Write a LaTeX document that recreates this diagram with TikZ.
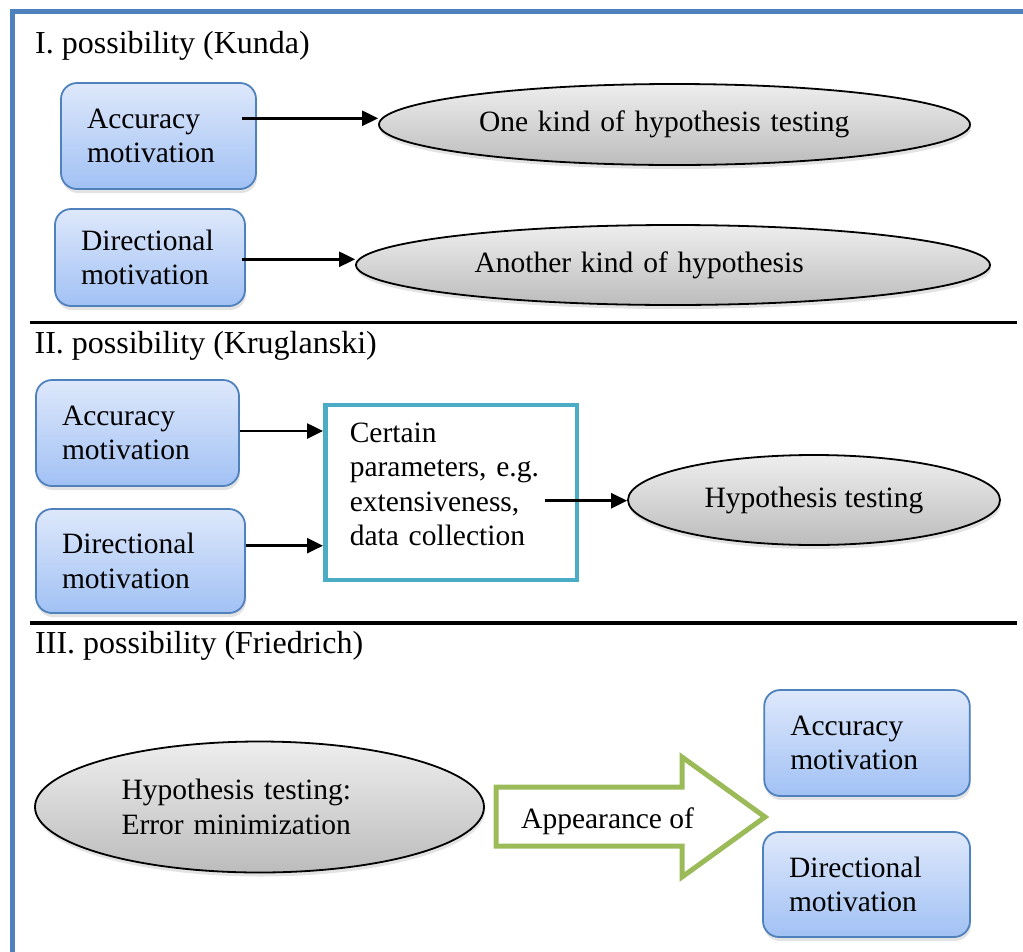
\documentclass[tikz,border=0pt]{standalone}
\usepackage{fontspec}
\setmainfont{Liberation Serif}
\usetikzlibrary{shapes.geometric,shadows,arrows.meta}

\definecolor{frameblue}{HTML}{4F81BD}
\definecolor{boxtop}{HTML}{DEE8FB}
\definecolor{boxbot}{HTML}{A1C1F4}
\definecolor{boxedge}{HTML}{4F81BD}
\definecolor{elltop}{HTML}{EEEEEE}
\definecolor{ellbot}{HTML}{BCBCBC}
\definecolor{paramcyan}{HTML}{4BACC6}
\definecolor{arrowgreen}{HTML}{9BBB59}

\tikzset{
  bodyfont/.style={font=\fontsize{29.5}{34.5}\selectfont},
  heading/.style={anchor=base west, inner sep=0pt, font=\fontsize{32}{38}\selectfont},
  softshadow/.style={drop shadow={shadow xshift=1pt, shadow yshift=-4pt, opacity=0.22}},
  motive/.style={bodyfont, draw=boxedge, line width=1.8pt, rounded corners=16pt,
    top color=boxtop, bottom color=boxbot, align=left,
    inner xsep=26pt, inner ysep=0pt, softshadow},
  outcome/.style={bodyfont, ellipse, draw=black, line width=1.8pt,
    top color=elltop, bottom color=ellbot, inner sep=0pt, softshadow},
  params/.style={bodyfont, draw=paramcyan, line width=4.5pt, fill=white,
    align=left, inner xsep=24.5pt, inner ysep=0pt},
  conn/.style={line width=2.6pt, -{Triangle[length=16pt,width=15pt]}},
  divider/.style={line width=3.5pt},
  bigarrow/.style={draw=arrowgreen, line width=5pt, fill=white, line join=miter},
}

\begin{document}
\begin{tikzpicture}[x=1pt, y=-1pt]
\useasboundingbox (0,0) rectangle (1023,951);

% outer frame (only the top and left sides fall on the page)
\draw[frameblue, line width=5pt] (12.2,960) -- (12.2,11.5) -- (1035,11.5);

% ---------- I. Kunda ----------
\node[heading] (t1) at (35,53) {I. possibility (Kunda)};
\node[motive, text width=143pt, minimum height=106pt] (a1) at (158.5,136) {Accuracy\\motivation};
\node[motive, text width=138pt, minimum height=97pt] (d1) at (150,257.5) {Directional\\motivation};
\node[outcome, minimum width=591pt, minimum height=81pt, text width=391pt, align=left]
  (e1) at (674.5,124.5) {One kind of hypothesis testing};
\node[outcome, minimum width=634pt, minimum height=80pt, text width=397pt, align=left]
  (e2) at (673,265) {Another kind of hypothesis};

\draw[conn] ([xshift=-15pt,yshift=17.7pt]a1.east) coordinate (s1) -- (s1 -| e1.west);
\draw[conn] ([xshift=-4pt,yshift=-1.8pt]d1.east) coordinate (s2) -- (s2 -| e2.west);

\draw[divider] (30,322.3) -- (1017,322.3);

% ---------- II. Kruglanski ----------
\node[heading] (t2) at (34.4,353) {II. possibility (Kruglanski)};
\node[motive, text width=151pt, minimum height=106pt] (a2) at (137.5,433) {Accuracy\\motivation};
\node[motive, text width=157pt, minimum height=104pt] (d2) at (140.5,561) {Directional\\motivation};
\node[params, text width=202.5pt, minimum height=175pt, text depth=120.5pt]
  (p) at (451,492.5) {Certain\\parameters, e.g.\\extensiveness,\\data collection};
\node[outcome, minimum width=372pt, minimum height=90pt] (e3) at (814,500) {Hypothesis testing};

\draw[conn] ([yshift=2pt]a2.east) coordinate (s3) -- (s3 -| p.west);
\draw[conn] ([yshift=15.3pt]d2.east) coordinate (s4) -- (s4 -| p.west);
\draw[conn] ([xshift=-34.3pt,yshift=-8.2pt]p.east) coordinate (s5) -- (s5 -| e3.west);

\draw[divider] (30,623) -- (1017,623);

% ---------- III. Friedrich ----------
\node[heading] (t3) at (35,653) {III. possibility (Friedrich)};
\node[outcome, minimum width=449pt, minimum height=131pt, text width=276pt, align=left]
  (e4) at (259.5,807) {Hypothesis testing:\\Error minimization};

% block arrow
\draw[bigarrow] (496,787) -- (682,787) -- (682,757) -- (765,817)
  -- (682,877) -- (682,846) -- (496,846) -- cycle;
\node[bodyfont, anchor=base west, inner sep=0pt] (app) at (521,828.3) {Appearance of};

\node[motive, text width=153.5pt, minimum height=106pt] (a3) at (867,743) {Accuracy\\motivation};
\node[motive, text width=155pt, minimum height=105pt] (d3) at (866.5,884.5) {Directional\\motivation};
\end{tikzpicture}
\end{document}
